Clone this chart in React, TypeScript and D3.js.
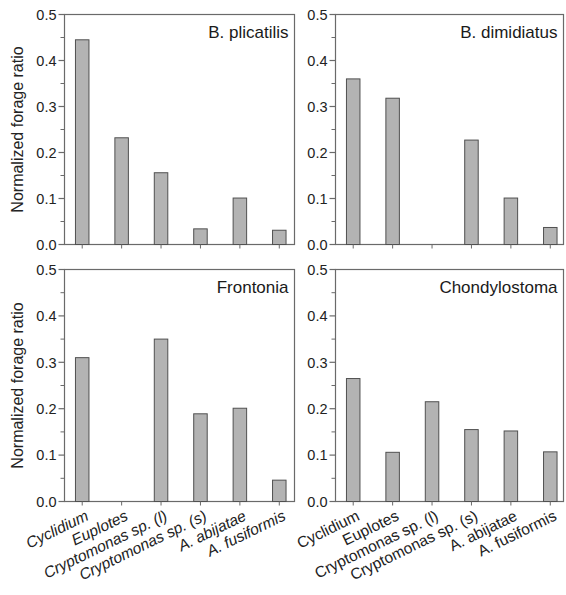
import React from "react";
import * as d3 from "d3";

const categories = [
  "Cyclidium",
  "Euplotes",
  "Cryptomonas sp. (l)",
  "Cryptomonas sp. (s)",
  "A. abijatae",
  "A. fusiformis",
];
const bPlicatilis = [0.445, 0.232, 0.156, 0.034, 0.101, 0.031];
const bDimidiatus = [0.36, 0.318, 0, 0.227, 0.101, 0.037];
const frontonia = [0.31, 0, 0.35, 0.189, 0.201, 0.046];
const chondylostoma = [0.265, 0.106, 0.215, 0.155, 0.152, 0.107];
const yTicks = [0, 0.1, 0.2, 0.3, 0.4, 0.5];
const yMinorTicks = [0.05, 0.15, 0.25, 0.35, 0.45];
const titles = ["B. plicatilis", "B. dimidiatus", "Frontonia", "Chondylostoma"];
const yTitle = "Normalized forage ratio";

const FONT = "'Liberation Sans', Arial, sans-serif";
const AXIS = "#6a6a6a";

type PanelProps = {
  values: number[];
  title: string;
  x0: number;
  x1: number;
  yTop: number;
  yBot: number;
  showYTitle: boolean;
  showXLabels: boolean;
  italicLabels: boolean;
};

function Panel({ values, title, x0, x1, yTop, yBot, showYTitle, showXLabels, italicLabels }: PanelProps) {
  const y = d3.scaleLinear().domain([0, 0.5]).range([yBot, yTop]);
  const x = d3.scalePoint<string>().domain(categories).range([x0 - 2, x0 + 234.5]).padding(0.5);
  const bw = 13.5;
  return (
    <g>
      <rect x={x0} y={yTop} width={x1 - x0} height={yBot - yTop} fill="none" stroke={AXIS} strokeWidth={1.2} />
      {values.map((v, i) =>
        v > 0 ? (
          <rect
            key={i}
            x={(x(categories[i]) as number) - bw / 2}
            y={y(v)}
            width={bw}
            height={y(0) - y(v)}
            fill="#b3b3b3"
            stroke="#505050"
            strokeWidth={1}
          />
        ) : null
      )}
      {yTicks.map((t) => (
        <g key={t}>
          <line x1={x0 - 6} x2={x0} y1={y(t)} y2={y(t)} stroke={AXIS} strokeWidth={1.2} />
          <text
            x={x0 - 8}
            y={y(t)}
            dy="0.36em"
            textAnchor="end"
            fontSize={14.5}
            fontFamily={FONT}
            fill="#222"
          >
            {t.toFixed(1)}
          </text>
        </g>
      ))}
      {yMinorTicks.map((t) => (
        <line key={t} x1={x0 - 4} x2={x0} y1={y(t)} y2={y(t)} stroke={AXIS} strokeWidth={1} />
      ))}
      {categories.map((c) => (
        <line
          key={c}
          x1={x(c) as number}
          x2={x(c) as number}
          y1={yBot}
          y2={yBot + 4}
          stroke={AXIS}
          strokeWidth={1}
        />
      ))}
      {showXLabels &&
        categories.map((c) => {
          const cx = (x(c) as number) + 5;
          const cy = yBot + 13;
          return (
            <text
              key={c}
              transform={`translate(${cx},${cy}) rotate(-26)`}
              textAnchor="end"
              dy="0.35em"
              fontSize={15.5}
              fontFamily={FONT}
              fontStyle={italicLabels ? "italic" : "normal"}
              fill="#222"
            >
              {c}
            </text>
          );
        })}
      <text
        x={x1 - 6}
        y={yTop + 23}
        textAnchor="end"
        fontSize={17}
        fontFamily={FONT}
        fill="#1a1a1a"
      >
        {title}
      </text>
      {showYTitle && (
        <text
          transform={`translate(${23},${(yTop + yBot) / 2}) rotate(-90)`}
          textAnchor="middle"
          fontSize={16}
          fontFamily={FONT}
          fill="#222"
        >
          {yTitle}
        </text>
      )}
    </g>
  );
}

export default function App() {
  const leftX0 = 64.5;
  const leftX1 = 294.5;
  const rightX0 = 335.5;
  const rightX1 = 563.5;
  const topY0 = 14.5;
  const topY1 = 244.5;
  const botY0 = 269.5;
  const botY1 = 501.5;
  return (
    <svg
      width={566}
      height={595}
      style={{ position: "absolute", left: 0, top: 0, background: "#fff" }}
    >
      <Panel values={bPlicatilis} title={titles[0]} x0={leftX0} x1={leftX1} yTop={topY0} yBot={topY1} showYTitle showXLabels={false} italicLabels />
      <Panel values={bDimidiatus} title={titles[1]} x0={rightX0} x1={rightX1} yTop={topY0} yBot={topY1} showYTitle={false} showXLabels={false} italicLabels={false} />
      <Panel values={frontonia} title={titles[2]} x0={leftX0} x1={leftX1} yTop={botY0} yBot={botY1} showYTitle showXLabels italicLabels />
      <Panel values={chondylostoma} title={titles[3]} x0={rightX0} x1={rightX1} yTop={botY0} yBot={botY1} showYTitle={false} showXLabels italicLabels={false} />
    </svg>
  );
}
